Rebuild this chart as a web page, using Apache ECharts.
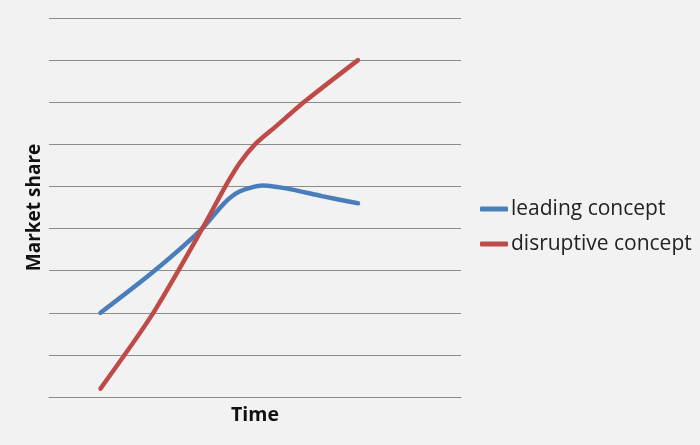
<!DOCTYPE html>
<html><head><meta charset="utf-8">
<script src="https://cdn.jsdelivr.net/npm/echarts@6/dist/echarts.min.js"></script>
<style>html,body{margin:0;padding:0;background:#f2f2f2}#c{width:700px;height:445px}</style>
</head><body><div id="c"></div>
<script>
const seriesNames = ['leading concept', 'disruptive concept'];
const leadingX = [1, 2, 2.95, 3.4, 3.7, 4.15, 4.7, 5.3, 6];
const leadingY = [2.0, 2.95, 3.97, 4.6, 4.88, 5.02, 4.93, 4.77, 4.6];
const disruptiveX = [1, 2, 3, 3.4, 3.7, 4, 4.4, 5, 6];
const disruptiveY = [0.2, 1.95, 4.05, 4.95, 5.55, 6.0, 6.42, 7.05, 8.0];

const pair = (xs, ys) => xs.map((x, i) => [x, ys[i]]);
const chart = echarts.init(document.getElementById('c'));
chart.setOption({
  backgroundColor: '#f2f2f2',
  animation: false,
  grid: { left: 49, right: 239, top: 18, bottom: 48 },
  xAxis: {
    type: 'value', min: 0, max: 8,
    name: 'Time', nameLocation: 'middle', nameGap: 8,
    nameTextStyle: { fontFamily: 'Open Sans', fontWeight: 'bold', fontSize: 19.5, color: '#111' },
    axisLine: { show: true, lineStyle: { color: '#8c8c8c', width: 1 } },
    axisTick: { show: false }, axisLabel: { show: false }, splitLine: { show: false }
  },
  yAxis: {
    type: 'value', min: 0, max: 9, interval: 1,
    name: 'Market share', nameLocation: 'middle', nameGap: 5,
    nameTextStyle: { fontFamily: 'Open Sans', fontWeight: 'bold', fontSize: 19, color: '#111' },
    axisLine: { show: false }, axisTick: { show: false }, axisLabel: { show: false },
    splitLine: { show: true, lineStyle: { color: '#8c8c8c', width: 1 } }
  },
  legend: {
    orient: 'vertical', left: 480, top: 197, itemGap: 11, padding: 0,
    icon: 'roundRect', itemWidth: 28, itemHeight: 5,
    textStyle: { fontFamily: 'Open Sans', fontSize: 21, lineHeight: 24, color: '#222', padding: [0, 0, 0, -2] },
    data: seriesNames
  },
  series: [
    { name: seriesNames[0], type: 'line', data: pair(leadingX, leadingY), smooth: 0.25,
      showSymbol: false, lineStyle: { width: 4.5, color: '#4a7ebb', cap: 'round' }, itemStyle: { color: '#4a7ebb' } },
    { name: seriesNames[1], type: 'line', data: pair(disruptiveX, disruptiveY), smooth: 0.25,
      showSymbol: false, lineStyle: { width: 4.5, color: '#be4b48', cap: 'round' }, itemStyle: { color: '#be4b48' } }
  ]
});
</script></body></html>
